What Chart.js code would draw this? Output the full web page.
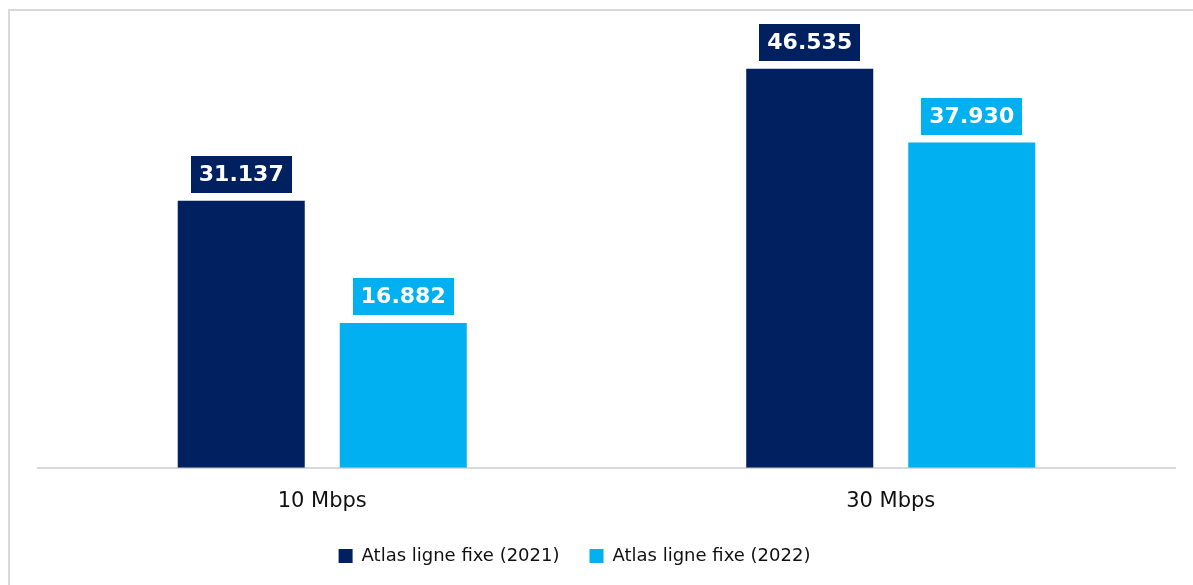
<!DOCTYPE html>
<html>
<head>
<meta charset="utf-8">
<script src="https://cdn.jsdelivr.net/npm/chart.js@4.4.0/dist/chart.umd.min.js"></script>
<style>
  html, body { margin: 0; padding: 0; background: #fff; }
  #frame { position: absolute; left: 8px; top: 9px; width: 1185px; height: 576px;
           border-top: 2px solid #d9d9d9; border-left: 2px solid #d9d9d9; }
  #wrap { position: absolute; left: 0; top: 0; width: 1193px; height: 585px; }
</style>
</head>
<body>
<div id="frame"></div>
<div id="wrap"><canvas id="myChart"></canvas></div>
<script>
// categories
var categories = ['10 Mbps', '30 Mbps'];
// series values
var series2021 = [31137, 46535];
var series2022 = [16882, 37930];
var seriesNames = ['Atlas ligne fixe (2021)', 'Atlas ligne fixe (2022)'];

// 31137 -> "31.137"
function fmt(v) {
  return String(v).replace(/\B(?=(\d{3})+(?!\d))/g, '.');
}

// value boxes above the bars
var boxLabels = {
  id: 'boxLabels',
  afterDatasetsDraw: function(chart) {
    var ctx = chart.ctx;
    ctx.save();
    ctx.font = 'bold 22px "DejaVu Sans"';
    ctx.textAlign = 'center';
    ctx.textBaseline = 'middle';
    chart.data.datasets.forEach(function(ds, i) {
      var meta = chart.getDatasetMeta(i);
      meta.data.forEach(function(bar, j) {
        var txt = fmt(ds.data[j]);
        var w = ctx.measureText(txt).width + 16;
        var h = 37;
        var bottom = bar.y - 8;
        ctx.fillStyle = ds.backgroundColor;
        ctx.fillRect(Math.round(bar.x - w / 2), Math.round(bottom - h), Math.round(w), h);
        ctx.fillStyle = '#ffffff';
        ctx.fillText(txt, bar.x, bottom - h / 2 + 1);
      });
    });
    ctx.restore();
  }
};

// legend in the picture sits a bit left of the centre
var legendShift = {
  id: 'legendShift',
  afterUpdate: function(chart) {
    chart.legend.left -= 32;
    chart.legend.right -= 32;
  }
};

var ctx = document.getElementById('myChart').getContext('2d');
var myChart = new Chart(ctx, {
  type: 'bar',
  data: {
    labels: categories,
    datasets: [{
      label: seriesNames[0],
      data: series2021,
      backgroundColor: '#002060',
      categoryPercentage: 0.57,
      barPercentage: 0.784
    }, {
      label: seriesNames[1],
      data: series2022,
      backgroundColor: '#00b0f0',
      categoryPercentage: 0.57,
      barPercentage: 0.784
    }]
  },
  options: {
    responsive: true,
    maintainAspectRatio: false,
    animation: false,
    layout: { padding: { left: 38, right: 18, top: 22, bottom: 10 } },
    scales: {
      x: {
        grid: { display: false, drawTicks: false },
        border: { display: true, color: '#d9d9d9', width: 2 },
        ticks: { color: '#111', padding: 21, font: { family: 'DejaVu Sans', size: 21 } },
        afterFit: function(scale) { scale.height -= 18; }
      },
      y: {
        display: false,
        min: 0,
        max: 52000
      }
    },
    plugins: {
      legend: {
        position: 'bottom',
        labels: {
          boxWidth: 14,
          boxHeight: 14,
          padding: 30,
          color: '#111',
          font: { family: 'DejaVu Sans', size: 18 }
        }
      },
      tooltip: { enabled: false }
    }
  },
  plugins: [boxLabels, legendShift]
});
</script>
</body>
</html>
